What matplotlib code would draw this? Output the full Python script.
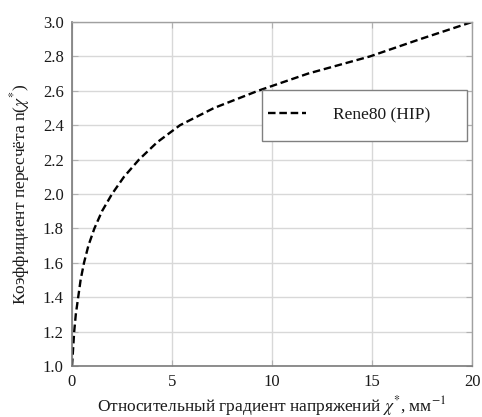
import matplotlib
matplotlib.use("Agg")
import matplotlib.pyplot as plt
from matplotlib.patches import Rectangle

# Data
gradient = [0.0, 0.11, 0.19, 0.31, 0.43, 0.6, 0.82, 1.12, 1.5, 2.0, 2.6,
            3.35, 4.25, 5.4, 7.1, 9.3, 11.8, 14.9, 17.4, 20.0]
factor = [1.0, 1.2, 1.3, 1.4, 1.5, 1.6, 1.7, 1.8, 1.9, 2.0, 2.1,
          2.2, 2.3, 2.4, 2.5, 2.6, 2.7, 2.8, 2.9, 3.0]
series_label = "Rene80 (HIP)"
x_ticks = [0, 5, 10, 15, 20]
y_ticks = [1.0, 1.2, 1.4, 1.6, 1.8, 2.0, 2.2, 2.4, 2.6, 2.8, 3.0]

plt.rcParams['font.family'] = ['Liberation Serif', 'DejaVu Serif']
plt.rcParams['mathtext.fontset'] = 'stix'

txt = '#1a1a1a'
fig = plt.figure(figsize=(4.82, 4.17), dpi=100)
ax = fig.add_axes([72/482, 1-366/417, 400/482, 344/417])

ax.plot(gradient, factor, color='black', lw=1.7, linestyle=(0, (3.2, 1.6)),
        label=series_label)

ax.set_xlim(0, 20)
ax.set_ylim(1.0, 3.0)
ax.set_xticks(x_ticks)
ax.set_yticks(y_ticks)
ax.set_yticklabels([f"{v:.1f}" for v in y_ticks])
ax.grid(True, color='#d8d8d8', lw=1.0)
ax.set_axisbelow(True)
ax.tick_params(direction='in', length=4, color='#b0b0b0', labelsize=12,
               labelcolor=txt, top=True, right=True, pad=6)

for side in ['left', 'bottom']:
    ax.spines[side].set_color('#7a7a7a')
    ax.spines[side].set_linewidth(1.2)
for side in ['top', 'right']:
    ax.spines[side].set_color('#a0a0a0')
    ax.spines[side].set_linewidth(1.0)

ax.set_xlabel(r'Относительный градиент напряжений $\chi^{*}$, мм$^{-1}$',
              fontsize=12.5, color=txt, labelpad=3)
ax.set_ylabel(r'Коэффициент пересчёта n($\chi^{*}$)', fontsize=12.5,
              color=txt, labelpad=8)

# legend frame (layout box) and legend entry
box_x, box_y, box_w, box_h = 0.475, 0.655, 0.5125, 0.147
ax.add_patch(Rectangle((box_x, box_y), box_w, box_h, transform=ax.transAxes,
                       facecolor='white', edgecolor='#808080', lw=1.0,
                       zorder=4))
leg = ax.legend(loc='center left', bbox_to_anchor=(box_x, box_y + box_h / 2),
                borderaxespad=0, frameon=False, fontsize=12.5,
                handlelength=2.2, handletextpad=1.55, borderpad=0.35)
leg.set_zorder(5)
for t in leg.get_texts():
    t.set_color(txt)

fig.savefig('out.png', dpi=100)
